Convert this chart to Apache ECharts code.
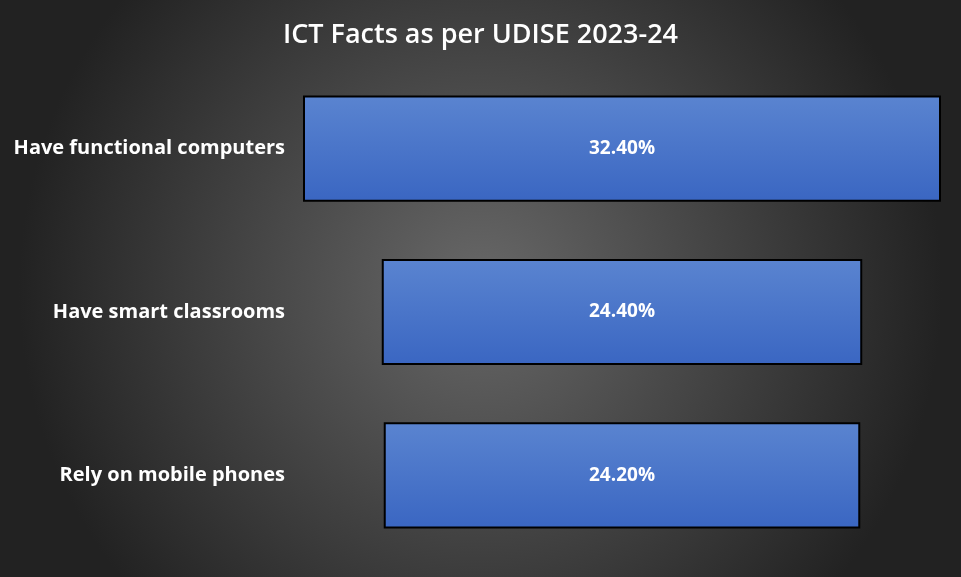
<!DOCTYPE html>
<html>
<head>
<meta charset="utf-8">
<script src="https://cdn.jsdelivr.net/npm/echarts@6/dist/echarts.min.js"></script>
<style>html,body{margin:0;padding:0;background:#222;}#main{width:961px;height:577px;}</style>
</head>
<body>
<div id="main"></div>
<script>
var categories = ['Have functional computers', 'Have smart classrooms', 'Rely on mobile phones'];
var values = [32.4, 24.4, 24.2];
var maxValue = 32.4;

// offsets so each bar sits centred like a funnel
var offsets = values.map(function (v) { return (maxValue - v) / 2; });

var myChart = echarts.init(document.getElementById('main'));
var option = {
    backgroundColor: {
        type: 'radial', x: 0.5, y: 0.5, r: 0.8,
        colorStops: [{ offset: 0, color: '#686868' }, { offset: 1, color: '#222222' }]
    },
    title: {
        text: 'ICT Facts as per UDISE 2023-24',
        left: 'center', top: 17,
        textStyle: { color: '#fff', fontSize: 27, fontWeight: 600, fontFamily: 'Open Sans' }
    },
    grid: { left: 303, width: 638, top: 67, bottom: 20 },
    xAxis: { type: 'value', min: 0, max: maxValue, show: false },
    yAxis: {
        type: 'category', inverse: true, data: categories,
        axisLine: { show: false }, axisTick: { show: false },
        axisLabel: { color: '#fff', fontSize: 20, fontWeight: 'bold', fontFamily: 'Open Sans', margin: 18 }
    },
    series: [
        {
            type: 'bar', stack: 'f', data: offsets, silent: true,
            itemStyle: { color: 'transparent' }, barCategoryGap: '35%'
        },
        {
            type: 'bar', stack: 'f', data: values, barCategoryGap: '35%',
            itemStyle: {
                color: {
                    type: 'linear', x: 0, y: 0, x2: 0, y2: 1,
                    colorStops: [{ offset: 0, color: '#5a84d0' }, { offset: 1, color: '#3a66c2' }]
                },
                borderColor: '#000', borderWidth: 2
            },
            label: {
                show: true, position: 'inside', color: '#fff', fontSize: 19, fontWeight: 'bold',
                fontFamily: 'Open Sans',
                formatter: function (p) { return p.value.toFixed(2) + '%'; }
            }
        }
    ]
};
myChart.setOption(option);
</script>
</body>
</html>
